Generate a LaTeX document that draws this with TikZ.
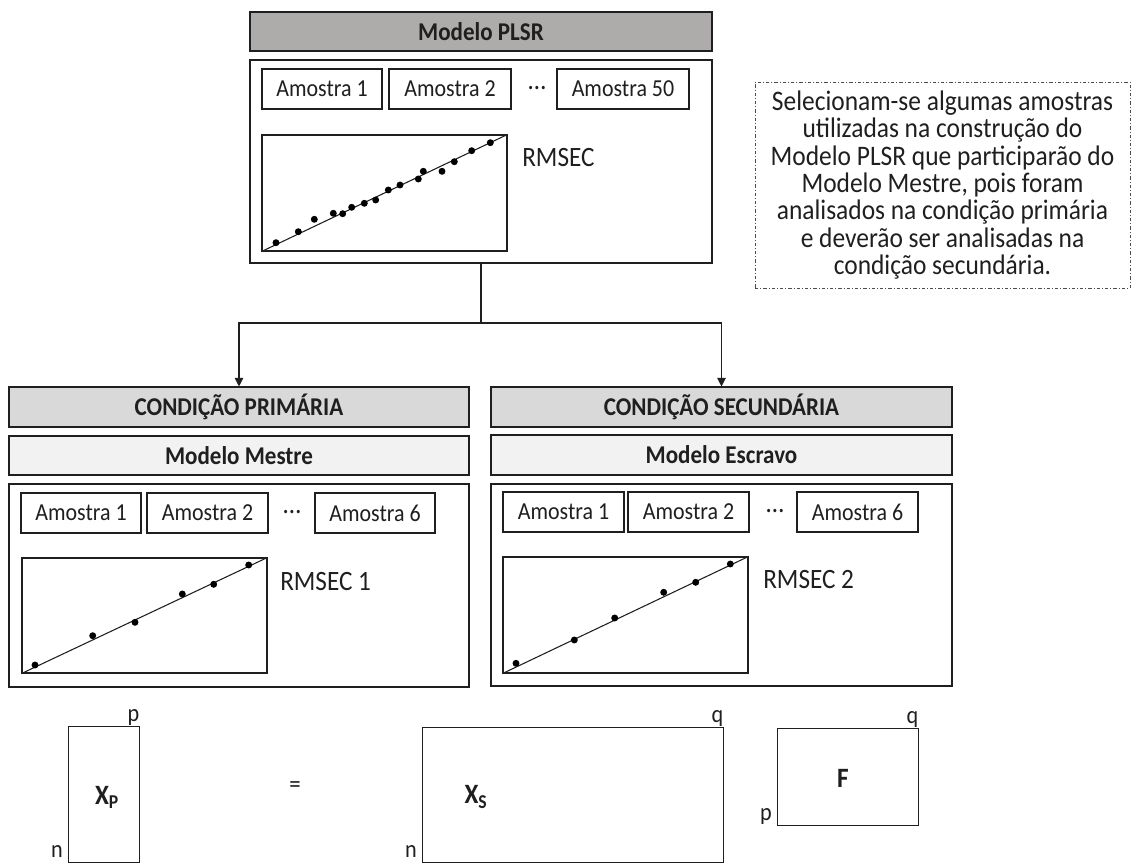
\documentclass[tikz,border=0pt]{standalone}
\usepackage{fontspec}
\setmainfont{Carlito}[FakeStretch=0.9]
\usetikzlibrary{arrows.meta}
\definecolor{titlegray}{HTML}{AEABAB}
\definecolor{condgray}{HTML}{D9D9D9}
\definecolor{modgray}{HTML}{F2F2F2}
\definecolor{ink}{HTML}{1F1F1F}
\begin{document}
\begin{tikzpicture}[x=0.75pt,y=-0.75pt,
  every node/.style={font=\fontsize{18.3}{22}\selectfont, text=ink},
  sz/.style 2 args={minimum width=#1*0.75pt, minimum height=#2*0.75pt},
  box/.style={draw=ink, line width=0.8pt, inner sep=0pt},
  headfont/.style={font=\fontsize{19.2}{22}\selectfont\bfseries},
  titlebox/.style={box, fill=titlegray, headfont},
  condbox/.style={box, fill=condgray, headfont},
  modbox/.style={box, fill=modgray, headfont},
  plotbox/.style={box},
  lbl/.style={inner sep=0pt},
  ell/.style={inner sep=0pt, font=\fontsize{21}{22}\selectfont},
  rmlbl/.style={inner sep=0pt, anchor=west, font=\fontsize{21}{22}\selectfont},
  dot/.style={fill=black},
  conn/.style={draw=ink, line width=0.8pt},
  arr/.style={conn, -{Triangle[length=6.5pt,width=6.5pt]}},
  note/.style={draw=ink!80, line width=0.6pt, dash pattern=on 2.5pt off 1.5pt on 0.75pt off 1.5pt, inner sep=0pt, align=center, font=\fontsize{21.2}{20.5}\selectfont},
  mat/.style={draw=ink, line width=0.7pt, inner sep=0pt},
  matlbl/.style={inner sep=0pt, font=\fontsize{21}{22}\selectfont\bfseries},
  dimlbl/.style={inner sep=0pt, font=\fontsize{18.5}{20}\selectfont}
]
\useasboundingbox (0,0) rectangle (1131,863);

% ---------- top: Modelo PLSR ----------
\node[titlebox, sz={462}{39}] (title) at (481,31.5) {Modelo PLSR};
\node[box, sz={462}{203}] (plsr) at (481,161.5) {};
\node[box, sz={120}{40}] (ta1) at (322,89) {Amostra 1};
\node[box, sz={122}{40}] (ta2) at (450,89) {Amostra 2};
\node[ell] (tdots) at (537,88) {…};
\node[box, sz={132}{40}] (ta50) at (623,89) {Amostra 50};
\node[plotbox, sz={245}{116}] (tplot) at (384.5,193) {};
\draw[conn] (tplot.south west) -- (tplot.north east);
\foreach \x/\y in {276/242.7,298.3/231.7,314.3/219.3,333.3/213.3,342.7/213.7,351.7/207.3,364.3/203.3,375.7/200,388.3/190,400/185,418.3/179,423.3/171.3,442/171.3,454.3/161.7,471.7/150.7,490.3/142.7}
  \fill[dot] (\x,\y) circle[radius=2.6pt];
\node[rmlbl] (trm) at (522,158) {RMSEC};

% ---------- note ----------
\node[note, sz={375}{206}] (notebox) at (942.5,185) {Selecionam-se algumas amostras\\utilizadas na construção do\\Modelo PLSR que participarão do\\Modelo Mestre, pois foram\\analisados na condição primária\\e deverão ser analisadas na\\condição secundária.};

% ---------- left column ----------
\node[condbox, sz={460}{40}] (cp) at (239,407) {CONDIÇÃO PRIMÁRIA};
\node[modbox, sz={460}{39}] (mm) at (239,455.5) {Modelo Mestre};
\node[box, sz={460}{203}] (lbox) at (239,585.5) {};
\node[box, sz={120}{40}] (la1) at (81,513) {Amostra 1};
\node[box, sz={121}{40}] (la2) at (207.5,513) {Amostra 2};
\node[ell] (ldots) at (292,512) {…};
\node[box, sz={120}{40}] (la6) at (375,513) {Amostra 6};
\node[plotbox, sz={245}{115}] (lplot) at (144.5,615.5) {};
\draw[conn] (lplot.south west) -- (lplot.north east);
\foreach \x/\y in {35/665,92.7/635.7,135/622.3,182.3/594,213.7/584.3,248.7/565}
  \fill[dot] (\x,\y) circle[radius=2.6pt];
\node[rmlbl] (lrm) at (280,582) {RMSEC 1};

% ---------- right column ----------
\node[condbox, sz={461}{40}] (cs) at (721.5,407) {CONDIÇÃO SECUNDÁRIA};
\node[modbox, sz={461}{40}] (me) at (721.5,455) {Modelo Escravo};
\node[box, sz={461}{202}] (rbox) at (721.5,585) {};
\node[box, sz={121}{40}] (ra1) at (563.5,512) {Amostra 1};
\node[box, sz={121}{40}] (ra2) at (688.5,512) {Amostra 2};
\node[ell] (rdots) at (775,511) {…};
\node[box, sz={121}{40}] (ra6) at (857.5,512) {Amostra 6};
\node[plotbox, sz={245}{116}] (rplot) at (625.5,615) {};
\draw[conn] (rplot.south west) -- (rplot.north east);
\foreach \x/\y in {516/663.3,574.3/640,614.7/618,663.7/592.3,695.7/582.3,730.3/564}
  \fill[dot] (\x,\y) circle[radius=2.6pt];
\node[rmlbl] (rrm) at (763,580) {RMSEC 2};

% ---------- connectors ----------
\coordinate (split) at (481,323);
\draw[conn] (plsr.south) -- (split);
\draw[arr] (split) -| (cp.north);
\draw[arr] (split) -| (cs.north);

% ---------- matrices ----------
\node[mat, sz={71}{136}] (xp) at (103.5,794) {};
\node[matlbl] (xpl) at (107,797) {X\textsubscript{P}};
\node[dimlbl, anchor=south east] (xpp) at (xp.north east) {p};
\node[dimlbl, anchor=base east] (xpn) at (63,857) {n};

\node[lbl, font=\fontsize{19}{20}\selectfont] (eq) at (295,787) {=};

\node[mat, sz={301}{135}] (xs) at (572.5,794.5) {};
\node[matlbl] (xsl) at (476,797) {X\textsubscript{S}};
\node[dimlbl, anchor=south east] (xsq) at (xs.north east) {q};
\node[dimlbl, anchor=base east] (xsn) at (417,857) {n};

\node[mat, sz={141}{97}] (fm) at (847.5,776.5) {};
\node[matlbl] (fl) at (843,778) {F};
\node[dimlbl, anchor=south east] (fq) at (fm.north east) {q};
\node[dimlbl, anchor=base east] (fp) at (772,820) {p};
\end{tikzpicture}
\end{document}
